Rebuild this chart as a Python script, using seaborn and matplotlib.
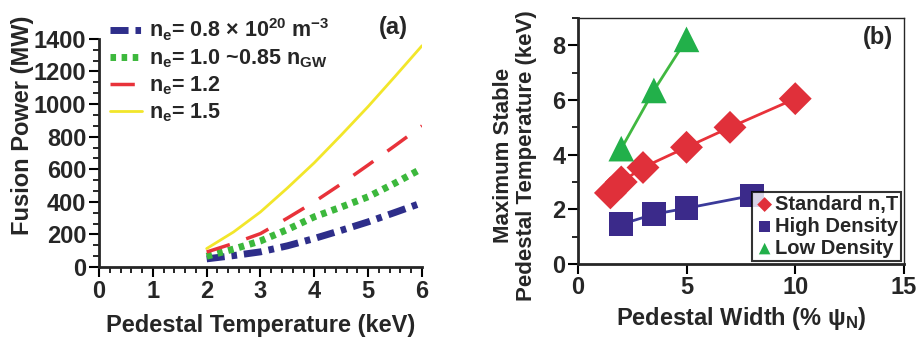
import matplotlib
matplotlib.use("Agg")
import matplotlib.pyplot as plt
from matplotlib.ticker import MultipleLocator
import seaborn as sns
import pandas as pd

# panel (a): fusion power vs pedestal temperature
temp = [2, 2.5, 3, 3.5, 4, 4.5, 5, 5.5, 6]
p_08 = [50, 70, 93, 130, 175, 225, 277, 335, 394]
p_10 = [66, 110, 160, 230, 308, 368, 431, 515, 605]
p_12 = [92, 145, 205, 300, 400, 510, 626, 745, 866]
p_15 = [113, 215, 338, 485, 640, 810, 985, 1170, 1358]
labels_a = [r"n$_\mathregular{e}$= 0.8 $\times$ 10$^\mathregular{20}$ m$^\mathregular{-3}$",
            r"n$_\mathregular{e}$= 1.0 ~0.85 n$_\mathregular{GW}$",
            r"n$_\mathregular{e}$= 1.2",
            r"n$_\mathregular{e}$= 1.5"]

# panel (b): max stable pedestal temperature vs pedestal width
w_std = [1.5, 2, 3, 5, 7, 10]
t_std = [2.6, 3.0, 3.53, 4.27, 5.0, 6.05]
w_high = [2, 3.5, 5, 8]
t_high = [1.45, 1.82, 2.04, 2.5]
w_low = [2, 3.5, 5]
t_low = [4.22, 6.35, 8.22]

sns.set_theme(style="ticks")
plt.rcParams["font.family"] = ["Liberation Sans", "DejaVu Sans"]
plt.rcParams["font.weight"] = "bold"
plt.rcParams["mathtext.default"] = "regular"
plt.rcParams["axes.linewidth"] = 2

FS = 17

fig = plt.figure(figsize=(9.2, 3.41), dpi=100)
ax1 = fig.add_axes([0.1076, 0.217, 0.3511, 0.669])
ax2 = fig.add_axes([0.628, 0.226, 0.3546, 0.721])

df_a = pd.DataFrame({"T": temp * 4,
                     "P": p_08 + p_10 + p_12 + p_15,
                     "case": sum([[l] * len(temp) for l in labels_a], [])})
colors_a = ["#2e2e8a", "#3cb83c", "#e8323a", "#f2e62a"]
styles_a = [dict(lw=5, dashes=(2.6, 1, 0.8, 1)), dict(lw=5, dashes=(0.8, 0.8)),
            dict(lw=2.5, dashes=(7, 5)), dict(lw=2, dashes=())]
for lab, col, st in zip(labels_a, colors_a, styles_a):
    sub = df_a[df_a["case"] == lab]
    sns.lineplot(data=sub, x="T", y="P", ax=ax1, color=col, label=lab,
                 lw=st["lw"], dashes=False)
    if st["dashes"]:
        ax1.lines[-1].set_dashes(st["dashes"])

ax1.set_xlim(0, 6)
ax1.set_ylim(0, 1400)
ax1.xaxis.set_major_locator(MultipleLocator(1))
ax1.xaxis.set_minor_locator(MultipleLocator(0.2))
ax1.yaxis.set_major_locator(MultipleLocator(200))
ax1.yaxis.set_minor_locator(MultipleLocator(200 / 3))
sns.despine(ax=ax1)
ax1.set_xlabel("Pedestal Temperature (keV)", fontsize=FS, fontweight="bold", labelpad=8)
ax1.set_ylabel("Fusion Power (MW)", fontsize=FS, fontweight="bold")
ax1.yaxis.set_label_coords(-0.20, 0.62)
ax1.tick_params(axis="both", which="major", labelsize=FS, width=1.5, length=7, color="black", pad=2)
ax1.tick_params(axis="both", which="minor", width=1.2, length=4, color="black")
leg1 = ax1.legend(loc="upper left", bbox_to_anchor=(0.0, 1.145), frameon=False,
                  fontsize=15.5, handlelength=1.5, labelspacing=0.2, borderpad=0,
                  handletextpad=0.3)
for t in leg1.get_texts():
    t.set_fontweight("bold")
ax1.text(0.91, 1.05, "(a)", transform=ax1.transAxes, ha="center", va="center",
         fontsize=FS, fontweight="bold")

# panel (b)
df_b = pd.DataFrame({"w": w_std + w_high + w_low,
                     "t": t_std + t_high + t_low,
                     "case": ["Standard n,T"] * len(w_std) + ["High Density"] * len(w_high)
                     + ["Low Density"] * len(w_low)})
pal_b = {"Standard n,T": "#e0303a", "High Density": "#3b2a8a", "Low Density": "#22b04a"}
line_b = {"Standard n,T": "#e8323a", "High Density": "#3b3a9a", "Low Density": "#40b840"}
marks_b = {"Standard n,T": "D", "High Density": "s", "Low Density": "^"}
sizes_b = {"Standard n,T": 280, "High Density": 290, "Low Density": 340}
for case in ["Standard n,T", "High Density", "Low Density"]:
    sub = df_b[df_b["case"] == case]
    sns.lineplot(data=sub, x="w", y="t", ax=ax2, color=line_b[case], lw=2, legend=False)
for case in ["Standard n,T", "High Density", "Low Density"]:
    sub = df_b[df_b["case"] == case]
    sns.scatterplot(data=sub, x="w", y="t", ax=ax2, color=pal_b[case], marker=marks_b[case],
                    s=sizes_b[case], edgecolor="none", label=case, zorder=3)
ax2.set_xlim(0, 15)
ax2.set_ylim(0, 9)
ax2.xaxis.set_major_locator(MultipleLocator(5))
ax2.yaxis.set_major_locator(MultipleLocator(2))
ax2.yaxis.set_minor_locator(MultipleLocator(1))
ax2.set_yticks([0, 2, 4, 6, 8])
ax2.set_xlabel(r"Pedestal Width (% ψ$_\mathregular{N}$)", fontsize=FS, fontweight="bold", labelpad=4)
ax2.set_ylabel("Maximum Stable\nPedestal Temperature (keV)", fontsize=16, fontweight="bold",
               linespacing=1.15)
ax2.yaxis.set_label_coords(-0.125, 0.44)
ax2.tick_params(axis="both", which="major", labelsize=FS, width=1.5, length=7, color="black", pad=2)
ax2.tick_params(axis="both", which="minor", width=1.2, length=4, color="black")
ax2.spines["top"].set_linewidth(1)
ax2.spines["right"].set_linewidth(1)
leg2 = ax2.legend(loc="lower right", bbox_to_anchor=(1.0, 0.0), frameon=True, fancybox=False,
                  edgecolor="black", fontsize=14.5, handletextpad=0.0, borderpad=0.15,
                  labelspacing=0.15, markerscale=0.45, handlelength=1.0, borderaxespad=0.15)
leg2.get_frame().set_linewidth(1.5)
for t in leg2.get_texts():
    t.set_fontweight("bold")
ax2.text(0.92, 0.923, "(b)", transform=ax2.transAxes, ha="center", va="center",
         fontsize=FS, fontweight="bold")

fig.savefig("out.png", dpi=100)
